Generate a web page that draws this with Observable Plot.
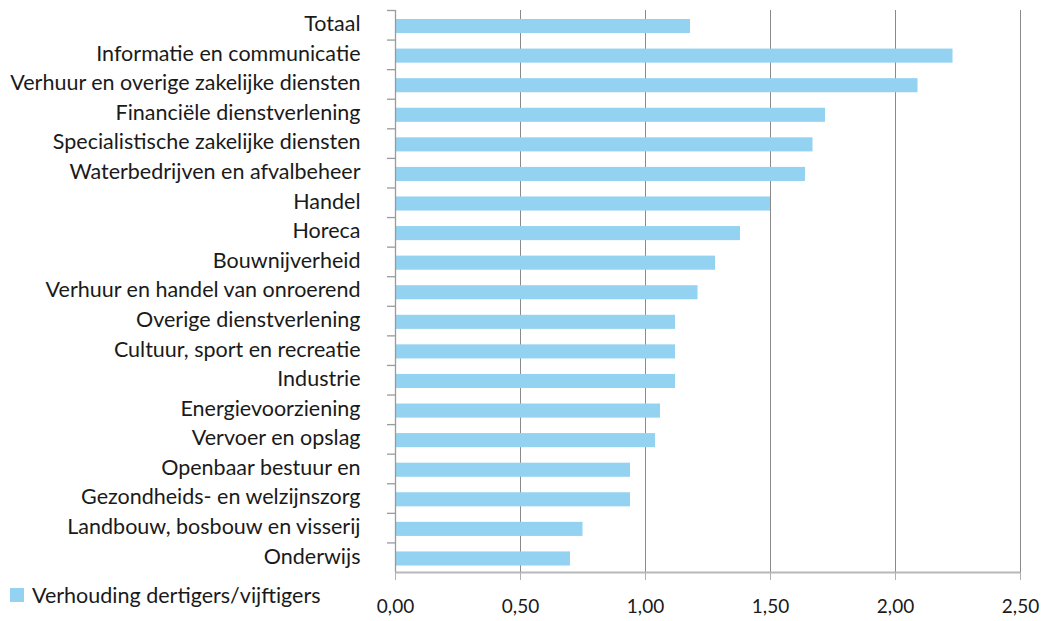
<!DOCTYPE html>
<html>
<head>
<meta charset="utf-8">
<script src="https://cdn.jsdelivr.net/npm/d3@7"></script>
<script src="https://cdn.jsdelivr.net/npm/@observablehq/plot@0.6"></script>
<style>
  html, body { margin: 0; padding: 0; background: #fff; }
  #wrap { position: relative; width: 1045px; height: 621px; font-family: Lato, "Open Sans", sans-serif; }
  #legend { position: absolute; left: 10px; top: 582px; display: flex; align-items: center; font-size: 21.5px; font-weight: 400; color: #1a1a1a; }
  #legend .sw { width: 14px; height: 14px; background: #93d2f0; margin-right: 8px; }
</style>
</head>
<body>
<div id="wrap">
  <div id="chart"></div>
  <div id="legend"><span class="sw"></span><span>Verhouding dertigers/vijftigers</span></div>
</div>
<script>
const categories = [
  "Totaal",
  "Informatie en communicatie",
  "Verhuur en overige zakelijke diensten",
  "Financiële dienstverlening",
  "Specialistische zakelijke diensten",
  "Waterbedrijven en afvalbeheer",
  "Handel",
  "Horeca",
  "Bouwnijverheid",
  "Verhuur en handel van onroerend",
  "Overige dienstverlening",
  "Cultuur, sport en recreatie",
  "Industrie",
  "Energievoorziening",
  "Vervoer en opslag",
  "Openbaar bestuur en",
  "Gezondheids- en welzijnszorg",
  "Landbouw, bosbouw en visserij",
  "Onderwijs"
];
const values = [1.18, 2.23, 2.09, 1.72, 1.67, 1.64, 1.50, 1.38, 1.28, 1.21, 1.12, 1.12, 1.12, 1.06, 1.04, 0.94, 0.94, 0.75, 0.70];
const xTicks = [0, 0.5, 1, 1.5, 2, 2.5];
const gridTicks = [0.5, 1, 1.5, 2, 2.5];
const seriesName = "Verhouding dertigers/vijftigers";

const data = categories.map((c, i) => ({category: c, value: values[i]}));

const marginTop = 10, marginBottom = 49, height = 621;
const step = (height - marginTop - marginBottom) / categories.length;

const chart = Plot.plot({
  width: 1045,
  height,
  marginLeft: 395,
  marginRight: 25,
  marginTop,
  marginBottom,
  style: {fontFamily: "Lato, 'Open Sans', sans-serif", color: "#1a1a1a", background: "#fff"},
  x: {domain: [0, 2.5]},
  y: {domain: categories, padding: 0, round: false},
  marks: [
    Plot.ruleX(gridTicks, {stroke: "#8a8a8a", strokeWidth: 1}),
    Plot.barX(data, {x: "value", y: "category", fill: "#93d2f0", insetTop: 9, insetBottom: 6.5}),
    Plot.ruleX([0], {stroke: "#9a9a9a", strokeWidth: 1.3}),
    Plot.ruleY(categories, {y: d => d, x1: -0.032, x2: 0, dy: -step / 2, stroke: "#9a9a9a", strokeWidth: 1.3}),
    Plot.ruleY([categories[categories.length - 1]], {y: d => d, x1: 0, x2: 2.5, dy: step / 2, stroke: "#b8b8b8", strokeWidth: 2}),
    Plot.axisX({
      ticks: xTicks,
      tickSize: 8,
      tickPadding: 19,
      stroke: "#b0b0b0",
      fontSize: 19,
      fontWeight: 400,
      tickFormat: d => d.toFixed(2).replace(".", ","),
      label: null,
      style: {letterSpacing: "1.5px"}
    }),
    Plot.axisY({
      tickSize: 0,
      tickPadding: 35,
      fontSize: 21.5,
      fontWeight: 400,
      dy: -1,
      label: null
    })
  ]
});
document.getElementById("chart").appendChild(chart);
</script>
</body>
</html>
